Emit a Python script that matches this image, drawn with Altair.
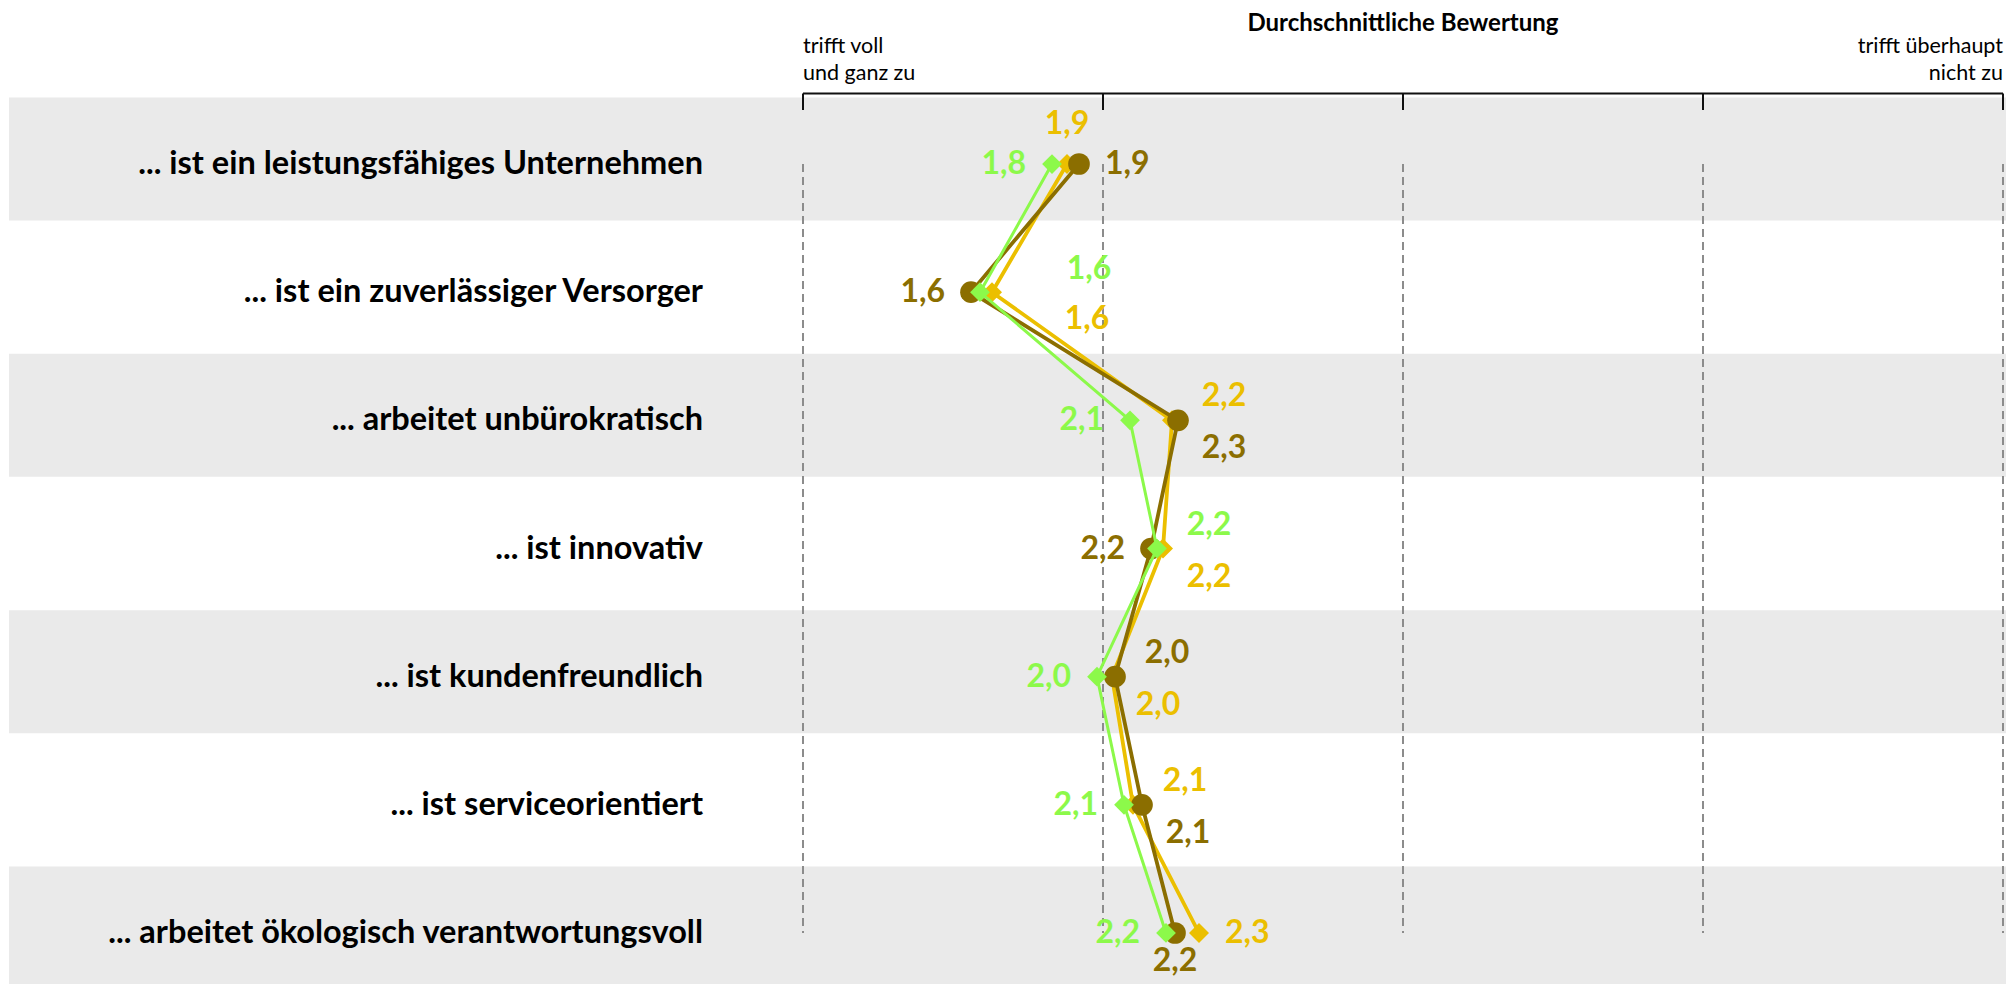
import altair as alt
import pandas as pd

# ---------------- data ----------------
categories = [
    "... ist ein leistungsfähiges Unternehmen",
    "... ist ein zuverlässiger Versorger",
    "... arbeitet unbürokratisch",
    "... ist innovativ",
    "... ist kundenfreundlich",
    "... ist serviceorientiert",
    "... arbeitet ökologisch verantwortungsvoll",
]
series_names = ["Serie A", "Serie B", "Serie C"]
values_a = [1.92, 1.56, 2.25, 2.16, 2.04, 2.13, 2.24]   # dark olive, circles
values_b = [1.88, 1.63, 2.23, 2.20, 2.03, 2.10, 2.32]   # gold, diamonds
values_c = [1.83, 1.59, 2.09, 2.18, 1.98, 2.07, 2.21]   # light green, diamonds

# label placement (named placements, mapped to offsets below)
place_a = ["right", "left", "lower right", "left", "upper right", "lower right", "below"]
place_b = ["above", "lower far right", "upper right", "lower right", "lower right", "upper right", "right"]
place_c = ["left", "upper far right", "left", "upper right", "left", "left", "left"]

ticks = [1, 2, 3, 4, 5]
title_text = "Durchschnittliche Bewertung"
left_note = "trifft voll\nund ganz zu"
right_note = "trifft überhaupt\nnicht zu"

# ---------------- style ----------------
colors = ["#8B6E00", "#EBBF00", "#8CF94A"]
shapes = ["circle", "diamond", "diamond"]
sizes = [470, 400, 390]
widths = [3.8, 3.8, 3.0]
FONT = "Lato"
W, H = 1998, 886

placements = {
    "left": dict(dx=-26, dy=0, align="right"),
    "right": dict(dx=26, dy=0, align="left"),
    "above": dict(dx=0, dy=-40, align="center"),
    "below": dict(dx=0, dy=28, align="center"),
    "upper right": dict(dx=52, dy=-24, align="center"),
    "lower right": dict(dx=46, dy=28, align="center"),
    "upper far right": dict(dx=109, dy=-23, align="center"),
    "lower far right": dict(dx=95, dy=27, align="center"),
}

rows = []
for name, vals, places in zip(series_names, [values_a, values_b, values_c], [place_a, place_b, place_c]):
    for i, (cat, v, p) in enumerate(zip(categories, vals, places)):
        rows.append({"series": name, "category": cat, "idx": i, "value": v, "pos": p})
df = pd.DataFrame(rows)

grid_df = pd.DataFrame([{"tick": t, "category": c, "idx": i} for t in ticks for i, c in enumerate(categories)])
band_df = pd.DataFrame({"category": categories[0::2]})
cat_df = pd.DataFrame({"category": categories})
tick_df = pd.DataFrame({"tick": ticks})
axis_df = pd.DataFrame({"start": [ticks[0]], "end": [ticks[-1]]})

x_scale = alt.Scale(domain=[-1.65, 5.01], nice=False, zero=False)
y_scale = alt.Scale(type="point", domain=categories, padding=0.4565, align=0.6154)
color_scale = alt.Scale(domain=series_names, range=colors)

X = lambda f: alt.X(f, scale=x_scale, axis=None)
Y = lambda: alt.Y("category:N", scale=y_scale, axis=None)

bands = alt.Chart(band_df).mark_rule(
    color="#EAEAEA", strokeWidth=123, yOffset=-5, strokeCap="butt"
).encode(y=Y(), x=alt.value(1), x2=alt.value(W))

cat_labels = alt.Chart(cat_df).mark_text(
    font=FONT, fontSize=32.5, fontWeight="bold", color="#000000", align="right", baseline="middle"
).encode(y=Y(), x=alt.value(695), text="category:N")

grid = alt.Chart(grid_df).mark_line(
    color="#8C8C8C", strokeWidth=2, strokeDash=[8, 5]
).encode(x=X("tick:Q"), y=Y(), detail="tick:N", order="idx:Q")

axis_line = alt.Chart(axis_df).mark_rule(color="#111111", strokeWidth=2).encode(
    x=X("start:Q"), x2="end:Q", y=alt.value(1.5)
)
axis_ticks = alt.Chart(tick_df).mark_rule(color="#111111", strokeWidth=2).encode(
    x=X("tick:Q"), y=alt.value(1.5), y2=alt.value(18)
)

title = alt.Chart(axis_df).mark_text(
    font=FONT, fontSize=24, fontWeight="bold", color="#000000", baseline="middle", align="center"
).encode(x=alt.X("mid:Q", scale=x_scale, axis=None), y=alt.value(-68), text=alt.value(title_text)).transform_calculate(
    mid="(datum.start + datum.end) / 2"
)
note_left = alt.Chart(axis_df).mark_text(
    font=FONT, fontSize=21.5, color="#000000", align="left", baseline="middle", lineBreak="\n", lineHeight=27
).encode(x=X("start:Q"), y=alt.value(-45), text=alt.value(left_note))
note_right = alt.Chart(axis_df).mark_text(
    font=FONT, fontSize=21.5, color="#000000", align="right", baseline="middle", lineBreak="\n", lineHeight=27
).encode(x=X("end:Q"), y=alt.value(-45), text=alt.value(right_note))

layers = [bands, cat_labels, grid, axis_line, axis_ticks, title, note_left, note_right]

order = [1, 0, 2]  # gold, olive, green
for k in order:
    name = series_names[k]
    sub = alt.Chart(df).transform_filter(alt.datum.series == name)
    layers.append(sub.mark_line(color=colors[k], strokeWidth=widths[k]).encode(
        x=X("value:Q"), y=Y(), order="idx:Q"))
    layers.append(sub.mark_point(filled=True, opacity=1, shape=shapes[k], size=sizes[k], color=colors[k]).encode(
        x=X("value:Q"), y=Y()))

for code, p in placements.items():
    layers.append(
        alt.Chart(df)
        .transform_filter(alt.datum.pos == code)
        .transform_calculate(label="replace(format(datum.value, '.1f'), '.', ',')")
        .mark_text(font=FONT, fontSize=32, fontWeight="bold", baseline="middle",
                   align=p["align"], dx=p["dx"], dy=p["dy"])
        .encode(x=X("value:Q"), y=Y(), text="label:N",
                color=alt.Color("series:N", scale=color_scale, legend=None))
    )

chart = alt.layer(*layers).properties(
    width=W, height=H,
    autosize=alt.AutoSizeParams(type="none"),
    padding={"left": 0, "top": 84, "right": 0, "bottom": 6},
    background="#FFFFFF",
).configure_view(stroke=None)

chart.save("out.html", embed_options={"renderer": "svg", "actions": False})
